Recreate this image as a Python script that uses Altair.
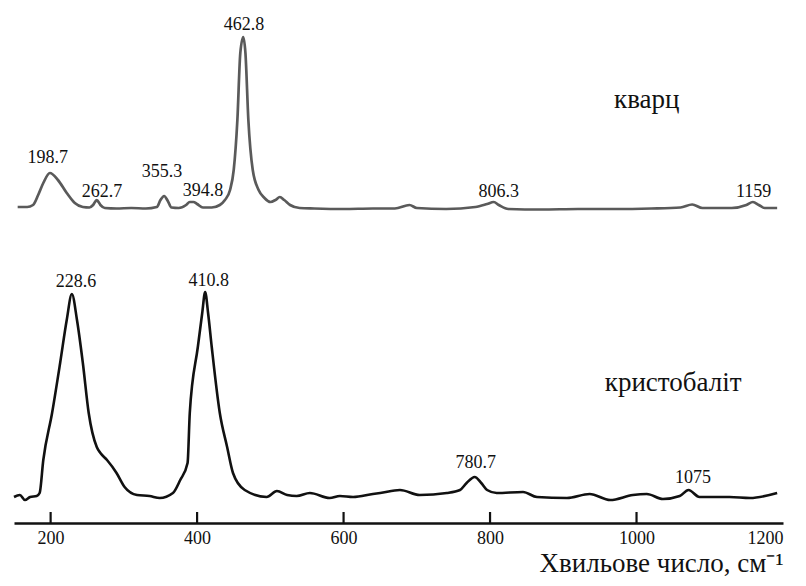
import altair as alt
import pandas as pd

# ---- data (wavenumber, intensity in arbitrary units) ----
quartz_wn = [155, 168, 176, 183, 190, 199, 210, 222, 233, 244, 253, 258, 263, 268, 274,
             290, 310, 330, 345, 350, 355, 360, 365, 375, 385, 390, 395, 400, 408,
             420, 431, 438, 445, 450, 455, 459, 463, 466, 470, 476, 484, 492, 500,
             507, 513, 519, 527, 540, 560, 600, 640, 670, 690, 700, 740, 780, 796,
             805, 812, 825, 870, 920, 970, 1020, 1060, 1076, 1090, 1130, 1150, 1159,
             1167, 1175, 1192]
quartz_int = [316, 316, 318, 328, 340, 350, 343, 330, 320, 316, 315.5, 318, 323, 318, 315,
              314.5, 315, 314.5, 316, 323, 327, 322, 315.5, 315, 318, 321, 321, 319, 315.5,
              315.5, 318, 323, 333, 353, 403, 470, 486, 470, 403, 353, 333, 325, 321,
              323, 326, 323, 318, 315, 314.5, 314, 314.5, 314.5, 318, 315, 314, 316, 319,
              321, 318, 314, 313.5, 314, 314, 314.5, 315.5, 318.5, 315, 315, 318, 321,
              318, 315, 315]

cristo_wn = [150, 158, 165, 172, 181, 185, 190, 202, 213, 222, 229, 236, 244, 252, 263,
             268, 277, 290, 301, 318, 335, 349, 367, 377, 387, 390, 401, 407, 411,
             415, 420, 431, 441, 449, 465, 495, 509, 523, 536, 554, 581, 595, 613,
             640, 650, 677, 704, 741, 759, 768, 779, 788, 796, 809, 845, 864, 905,
             936, 964, 995, 1014, 1036, 1059, 1071, 1086, 1127, 1155, 1192]
cristo_int = [26, 28, 23, 26, 27, 30, 63, 110, 160, 203, 229, 203, 160, 110, 76,
              70, 63, 50, 36, 28, 27, 25, 30, 43, 60, 110, 176, 210, 231,
              210, 176, 110, 76, 50, 33, 26, 32, 28, 27, 30, 25, 27, 26,
              29, 30, 33, 28, 30, 33, 40, 46, 40, 33, 30, 31, 26, 25,
              29, 23, 28, 29, 24, 27, 33, 26, 26, 25, 30]

quartz_labels = ["198.7", "262.7", "355.3", "394.8", "462.8", "806.3", "1159"]
quartz_label_wn = [196, 270, 352, 408, 464, 812, 1160]
quartz_label_level = [365, 331, 351, 332, 498, 331, 331]

cristo_labels = ["228.6", "410.8", "780.7", "1075"]
cristo_label_wn = [234.5, 416, 780.5, 1077]
cristo_label_level = [241, 242, 60, 45]

series_names = ["кварц", "кристобаліт"]
series_name_wn = [1014, 1050]
series_name_level = [423, 140]

tick_values = [200, 400, 600, 800, 1000, 1200]
inner_ticks = [200, 400, 600, 800, 1000]

FONT = "Liberation Serif"
X_DOMAIN = [150, 1200]
Y_DOMAIN = [0, 515]
W, H = 769, 515

quartz_df = pd.DataFrame({"wn": quartz_wn, "intensity": quartz_int})
cristo_df = pd.DataFrame({"wn": cristo_wn, "intensity": cristo_int})
qlab_df = pd.DataFrame({"wn": quartz_label_wn, "level": quartz_label_level, "text": quartz_labels})
clab_df = pd.DataFrame({"wn": cristo_label_wn, "level": cristo_label_level, "text": cristo_labels})
names_df = pd.DataFrame({"wn": series_name_wn, "level": series_name_level, "text": series_names})
ticks_df = pd.DataFrame({"wn": inner_ticks})

x_scale = alt.Scale(domain=X_DOMAIN, nice=False, zero=False)
y_scale = alt.Scale(domain=Y_DOMAIN, nice=False, zero=False)

x_axis = alt.Axis(
    values=tick_values,
    format="d",
    title="Хвильове число, см⁻¹",
    titleFont=FONT, titleFontSize=27, titleFontWeight="normal", titleColor="#111",
    titleAnchor="end", titleAlign="right", titlePadding=3,
    labelFont=FONT, labelFontSize=18, labelColor="#111", labelPadding=6,
    labelFlush=True,
    ticks=False, tickSize=0,
    domainColor="#111", domainWidth=2.5,
    grid=False,
)

quartz_line = alt.Chart(quartz_df).mark_line(
    color="#5a5a5a", strokeWidth=2.7, interpolate="monotone"
).encode(
    x=alt.X("wn:Q", scale=x_scale, axis=x_axis),
    y=alt.Y("intensity:Q", scale=y_scale, axis=None),
)

cristo_line = alt.Chart(cristo_df).mark_line(
    color="#111111", strokeWidth=2.6, interpolate="monotone"
).encode(
    x=alt.X("wn:Q", scale=x_scale),
    y=alt.Y("intensity:Q", scale=y_scale),
)

ticks = alt.Chart(ticks_df).mark_rule(color="#111111", strokeWidth=2.2).encode(
    x=alt.X("wn:Q", scale=x_scale),
    y=alt.datum(0),
    y2=alt.datum(11),
)

qlabels = alt.Chart(qlab_df).mark_text(
    font=FONT, fontSize=18, color="#111", baseline="middle", align="center"
).encode(
    x=alt.X("wn:Q", scale=x_scale),
    y=alt.Y("level:Q", scale=y_scale),
    text="text:N",
)

clabels = alt.Chart(clab_df).mark_text(
    font=FONT, fontSize=18, color="#111", baseline="middle", align="center"
).encode(
    x=alt.X("wn:Q", scale=x_scale),
    y=alt.Y("level:Q", scale=y_scale),
    text="text:N",
)

names = alt.Chart(names_df).mark_text(
    font=FONT, fontSize=27, color="#111", baseline="middle", align="center"
).encode(
    x=alt.X("wn:Q", scale=x_scale),
    y=alt.Y("level:Q", scale=y_scale),
    text="text:N",
)

chart = alt.layer(quartz_line, cristo_line, ticks, qlabels, clabels, names).properties(
    width=W,
    height=H,
    autosize=alt.AutoSizeParams(type="none"),
    padding={"left": 6, "top": 0, "right": 15, "bottom": 60},
    background="white",
).configure_view(stroke=None)

chart.save("out.html", embed_options={"renderer": "svg", "actions": False})
